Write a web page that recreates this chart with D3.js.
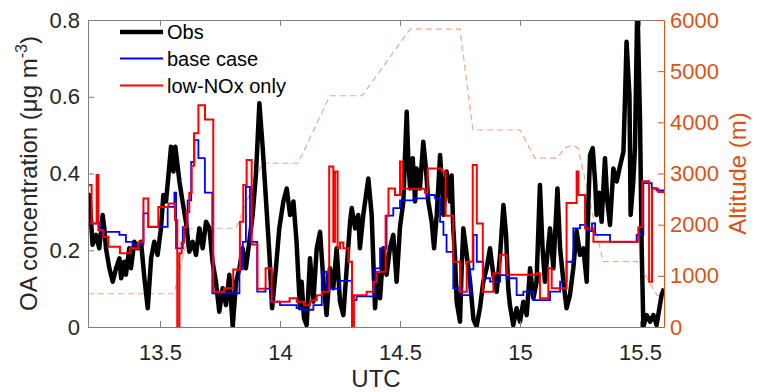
<!DOCTYPE html>
<html>
<head>
<meta charset="utf-8">
<script src="https://cdn.jsdelivr.net/npm/d3@7"></script>
<style>
body { margin: 0; background: #fff; }
text { font-family: Arial, "Liberation Sans", Helvetica, sans-serif; }
</style>
</head>
<body>
<div id="chart"></div>
<script>
// observed OA (ug m-3), time in UTC hours
var obsTime = [13.200,13.206,13.219,13.233,13.247,13.261,13.268,13.275,13.289,13.303,13.317,13.331,13.338,13.351,13.358,13.372,13.379,13.393,13.407,13.421,13.435,13.449,13.463,13.476,13.490,13.504,13.514,13.525,13.533,13.546,13.556,13.564,13.581,13.594,13.608,13.622,13.636,13.650,13.664,13.678,13.692,13.706,13.719,13.733,13.747,13.761,13.775,13.789,13.803,13.817,13.831,13.844,13.858,13.872,13.886,13.900,13.914,13.928,13.942,13.956,13.967,13.983,13.997,
  14.014,14.028,14.042,14.056,14.069,14.076,14.083,14.090,14.100,14.111,14.125,14.139,14.153,14.167,14.181,14.194,14.208,14.222,14.236,14.250,14.264,14.278,14.292,14.299,14.313,14.326,14.333,14.347,14.368,14.382,14.396,14.406,14.417,14.431,14.444,14.458,14.472,14.486,14.500,14.514,14.521,14.528,14.535,14.542,14.553,14.563,14.569,14.583,14.597,14.608,14.618,14.632,14.642,14.653,14.667,14.676,14.681,14.694,14.708,14.715,14.722,14.729,14.736,14.750,14.757,14.764,14.778,14.792,14.806,14.819,14.833,14.847,14.861,14.875,14.889,14.903,14.917,14.931,14.942,14.951,14.958,14.972,14.986,
  15.000,15.014,15.028,15.042,15.056,15.069,15.083,15.094,15.104,15.114,15.125,15.139,15.156,15.167,15.181,15.194,15.208,15.222,15.236,15.250,15.264,15.278,15.285,15.292,15.303,15.313,15.319,15.331,15.340,15.354,15.364,15.375,15.389,15.403,15.417,15.431,15.438,15.444,15.456,15.461,15.472,15.479,15.489,15.500,15.507,15.514,15.528,15.542,15.556,15.569,15.590,15.600];
var obsOA = [0.300,0.344,0.214,0.240,0.205,0.292,0.257,0.205,0.153,0.118,0.153,0.179,0.127,0.170,0.136,0.205,0.153,0.222,0.205,0.222,0.127,0.049,0.179,0.222,0.188,0.257,0.344,0.327,0.380,0.470,0.405,0.470,0.379,0.327,0.274,0.196,0.222,0.188,0.257,0.205,0.274,0.257,0.170,0.118,0.040,0.101,0.057,0.136,0.001,0.118,0.153,0.205,0.153,0.222,0.292,0.400,0.583,0.466,0.327,0.188,0.049,0.153,0.257,
  0.327,0.361,0.292,0.327,0.222,0.136,0.049,0.118,0.023,0.005,0.179,0.066,0.205,0.248,0.118,0.031,0.153,0.101,0.205,0.066,0.031,0.153,0.274,0.310,0.257,0.292,0.205,0.292,0.387,0.292,0.049,0.136,0.075,0.205,0.136,0.205,0.240,0.118,0.260,0.327,0.448,0.561,0.431,0.361,0.440,0.327,0.413,0.361,0.483,0.413,0.327,0.274,0.205,0.292,0.448,0.361,0.292,0.405,0.327,0.395,0.257,0.188,0.066,0.014,0.153,0.257,0.188,0.118,0.020,0.001,0.049,0.118,0.153,0.205,0.136,0.092,0.188,0.318,0.240,0.101,0.057,0.005,0.049,
  0.014,0.066,0.031,0.153,0.075,0.118,0.370,0.205,0.118,0.188,0.257,0.153,0.361,0.205,0.118,0.049,0.083,0.153,0.250,0.188,0.205,0.118,0.327,0.448,0.466,0.379,0.292,0.350,0.274,0.440,0.327,0.266,0.413,0.379,0.420,0.457,0.605,0.743,0.605,0.292,0.379,0.466,0.850,0.540,0.205,0.001,0.031,0.014,0.031,0.005,0.083,0.100];

// base case model, stepwise values
var baseTime = [13.200,13.254,13.331,13.358,13.386,13.431,13.451,13.532,13.560,13.567,13.595,13.615,13.630,13.643,13.660,13.687,13.718,13.831,13.845,13.858,13.875,13.905,13.940,13.965,14.000,14.069,14.097,14.139,14.174,14.194,14.250,14.299,14.319,14.396,14.417,14.444,14.472,14.500,14.556,14.611,14.646,14.667,14.681,14.694,14.722,14.757,14.792,14.806,14.820,14.847,14.875,14.917,14.944,14.986,15.014,15.056,15.125,15.167,15.194,15.222,15.250,15.278,15.300,15.313,15.375,15.486,15.514,15.549,15.569];
var baseOA = [0.270,0.248,0.240,0.222,0.215,0.296,0.261,0.313,0.350,0.205,0.260,0.330,0.430,0.487,0.440,0.350,0.088,0.150,0.222,0.365,0.222,0.092,0.100,0.066,0.057,0.049,0.045,0.057,0.144,0.100,0.120,0.070,0.080,0.153,0.205,0.290,0.310,0.330,0.335,0.344,0.335,0.274,0.240,0.196,0.101,0.083,0.150,0.240,0.170,0.127,0.118,0.135,0.127,0.083,0.092,0.070,0.092,0.118,0.170,0.257,0.266,0.250,0.270,0.240,0.222,0.240,0.375,0.362,0.356];

// low-NOx only model, stepwise values
var lowNoxTime = [13.200,13.215,13.236,13.243,13.264,13.285,13.333,13.375,13.410,13.431,13.451,13.493,13.535,13.5625,13.572,13.581,13.590,13.600,13.611,13.622,13.632,13.642,13.660,13.6875,13.722,13.767,13.805,13.833,13.847,13.861,13.882,13.906,13.940,13.965,14.040,14.070,14.100,14.125,14.153,14.175,14.205,14.222,14.229,14.240,14.250,14.264,14.285,14.300,14.308,14.361,14.389,14.403,14.440,14.452,14.479,14.500,14.510,14.604,14.615,14.675,14.690,14.722,14.750,14.778,14.803,14.820,14.845,14.889,14.917,14.944,15.069,15.083,15.118,15.132,15.194,15.236,15.243,15.271,15.306,15.493,15.510,15.538,15.550,15.576];
var lowNoxOA = [0.370,0.270,0.396,0.253,0.235,0.209,0.192,0.205,0.222,0.335,0.261,0.313,0.322,0.279,0.000,0.192,0.220,0.260,0.300,0.350,0.420,0.505,0.578,0.541,0.092,0.101,0.150,0.274,0.370,0.435,0.215,0.100,0.153,0.066,0.075,0.066,0.057,0.070,0.083,0.092,0.418,0.222,0.405,0.205,0.220,0.205,0.170,0.000,0.083,0.092,0.118,0.144,0.290,0.361,0.344,0.431,0.360,0.350,0.413,0.405,0.290,0.170,0.092,0.170,0.422,0.270,0.092,0.140,0.188,0.136,0.140,0.075,0.153,0.101,0.323,0.405,0.344,0.257,0.222,0.260,0.380,0.118,0.360,0.352];

// flight altitude (m)
var altTime = [13.200,13.558,13.625,13.817,13.925,14.075,14.208,14.342,14.542,14.750,14.804,15.000,15.062,15.154,15.188,15.217,15.242,15.346,15.488,15.571,15.600];
var altM = [650,650,1930,1930,3200,3200,4520,4520,5820,5820,3850,3850,3300,3300,3500,3550,3500,1280,1280,620,600];

var xTicks = [13.5, 14, 14.5, 15, 15.5];
var yTicks = [0, 0.2, 0.4, 0.6, 0.8];
var altTicks = [0, 1000, 2000, 3000, 4000, 5000, 6000];

(function() {
var width = 759, height = 392;
var pLeft = 88, pRight = 664, pTop = 20, pBottom = 327;
var axisGray = "#7f7f7f", orange = "#D95319";

var svg = d3.select("#chart").append("svg")
  .attr("width", width)
  .attr("height", height)
  .style("background", "#fff");

var x = d3.scaleLinear().domain([13.2, 15.6]).range([pLeft, pRight]);
var y = d3.scaleLinear().domain([0, 0.8]).range([pBottom, pTop]);
var yAlt = d3.scaleLinear().domain([0, 6000]).range([pBottom, pTop]);

svg.append("clipPath").attr("id", "plotclip")
  .append("rect")
  .attr("x", pLeft).attr("y", pTop)
  .attr("width", pRight - pLeft).attr("height", pBottom - pTop);

var plot = svg.append("g").attr("clip-path", "url(#plotclip)");

function pairs(ts, vs) {
  return ts.map(function(t, i){ return [t, vs[i]]; });
}
function stepPairs(ts, vs) {
  var p = pairs(ts, vs);
  p.push([15.6, vs[vs.length - 1]]);
  return p;
}

// altitude, right axis
plot.append("path")
  .datum(pairs(altTime, altM))
  .attr("fill", "none")
  .attr("stroke", "#EFA886")
  .attr("stroke-width", 1.2)
  .attr("stroke-dasharray", "6,4")
  .attr("d", d3.line().x(function(d){ return x(d[0]); }).y(function(d){ return yAlt(d[1]); }));

// obs
plot.append("path")
  .datum(pairs(obsTime, obsOA))
  .attr("fill", "none")
  .attr("stroke", "#000")
  .attr("stroke-width", 4.5)
  .attr("stroke-linejoin", "round")
  .attr("d", d3.line().x(function(d){ return x(d[0]); }).y(function(d){ return y(d[1]); }));

var step = d3.line()
  .curve(d3.curveStepAfter)
  .x(function(d){ return x(d[0]); })
  .y(function(d){ return y(d[1]); });

plot.append("path")
  .datum(stepPairs(baseTime, baseOA))
  .attr("fill", "none")
  .attr("stroke", "#0000FF")
  .attr("stroke-width", 1.8)
  .attr("d", step);

plot.append("path")
  .datum(stepPairs(lowNoxTime, lowNoxOA))
  .attr("fill", "none")
  .attr("stroke", "#FF0000")
  .attr("stroke-width", 2)
  .attr("d", step);

// axes
svg.append("g")
  .attr("transform", "translate(0," + pBottom + ")")
  .call(d3.axisBottom(x).tickValues(xTicks).tickSize(-6).tickSizeOuter(0).tickPadding(17)
    .tickFormat(function(d){ return d3.format("~g")(d); }));

svg.append("g")
  .attr("transform", "translate(0," + pTop + ")")
  .call(d3.axisTop(x).tickValues(xTicks).tickSize(-6).tickSizeOuter(0).tickFormat(""));

svg.append("g")
  .attr("transform", "translate(" + pLeft + ",0)")
  .call(d3.axisLeft(y).tickValues(yTicks).tickSize(-6).tickSizeOuter(0).tickPadding(8)
    .tickFormat(function(d){ return d === 0 ? "0" : d3.format(".1f")(d); }));

var altAxis = svg.append("g")
  .attr("transform", "translate(" + pRight + ",0)")
  .call(d3.axisRight(yAlt).tickValues(altTicks).tickSize(-6).tickSizeOuter(0).tickPadding(6)
    .tickFormat(d3.format("d")));

svg.selectAll(".domain, .tick line").attr("stroke", axisGray);
altAxis.selectAll(".domain, .tick line").attr("stroke", orange);
svg.selectAll(".tick text").attr("font-size", 22).attr("fill", "#262626")
  .style("font-family", "Arial, 'Liberation Sans', sans-serif");
altAxis.selectAll(".tick text").attr("fill", orange);

// axis labels
svg.append("text")
  .attr("x", (pLeft + pRight) / 2)
  .attr("y", 387)
  .attr("text-anchor", "middle")
  .attr("font-size", 24)
  .attr("fill", "#262626")
  .text("UTC");

var yl = svg.append("text")
  .attr("transform", "translate(37," + ((pTop + pBottom) / 2) + ") rotate(-90)")
  .attr("text-anchor", "middle")
  .attr("font-size", 24)
  .attr("fill", "#262626");
yl.append("tspan").text("OA concentration (\u03BCg m");
yl.append("tspan").attr("font-size", 16).attr("dy", -10).text("-3");
yl.append("tspan").attr("dy", 10).text(")");

svg.append("text")
  .attr("transform", "translate(746," + ((pTop + pBottom) / 2) + ") rotate(-90)")
  .attr("text-anchor", "middle")
  .attr("font-size", 24)
  .attr("fill", orange)
  .text("Altitude (m)");

// legend
var legend = [
  {name: "Obs", color: "#000", w: 4.5, y: 32},
  {name: "base case", color: "#0000FF", w: 2, y: 58.5},
  {name: "low-NOx only", color: "#FF0000", w: 2, y: 85.5}
];
var lg = svg.selectAll(".leg").data(legend).enter().append("g").attr("class", "leg");
lg.append("line")
  .attr("x1", 120).attr("x2", 163)
  .attr("y1", function(d){ return d.y; }).attr("y2", function(d){ return d.y; })
  .attr("stroke", function(d){ return d.color; })
  .attr("stroke-width", function(d){ return d.w; });
lg.append("text")
  .attr("x", 167)
  .attr("y", function(d){ return d.y; })
  .attr("dy", "0.36em")
  .attr("font-size", 20)
  .attr("fill", "#000")
  .text(function(d){ return d.name; });
})();
</script>
</body>
</html>
